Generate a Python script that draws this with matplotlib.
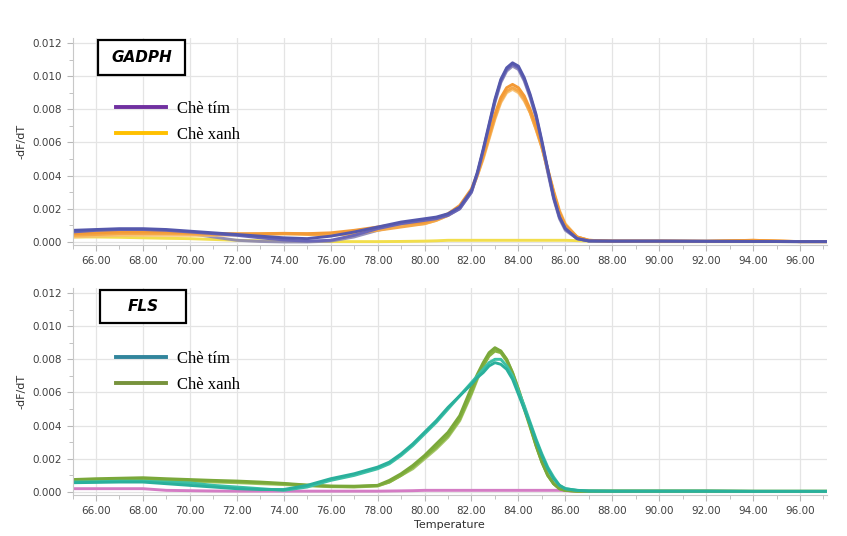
import matplotlib
matplotlib.use('Agg')
import matplotlib.pyplot as plt
from matplotlib.lines import Line2D
from matplotlib.patches import Rectangle
from matplotlib.ticker import MultipleLocator, FormatStrFormatter

# ---- data: GADPH (top panel) ----
t_top = [65, 66, 67, 68, 69, 70, 71, 72, 73, 74, 75, 76, 77, 78, 79, 80,
         80.5, 81, 81.5, 82,
         82.25, 82.5, 82.75, 83, 83.25, 83.5, 83.75, 84, 84.25, 84.5, 84.75, 85, 85.25, 85.5, 85.75, 86,
         86.5, 87, 88, 90, 92, 94, 96, 97.1]

gadph_tim_1 = [0.0007, 0.00075, 0.0008, 0.0008, 0.00075, 0.00065, 0.00055, 0.00045, 0.00035, 0.00025, 0.0002, 0.00035, 0.0006, 0.0009, 0.0012, 0.0014,
               0.0015, 0.0017, 0.0021, 0.0031,
               0.0042, 0.0056, 0.0071, 0.0086, 0.0098, 0.0105, 0.0108, 0.0106, 0.0099, 0.0089, 0.0077, 0.0061, 0.0044, 0.0027, 0.0015, 0.0008,
               0.0002, 0.00006, 0.00005, 0.00005, 0.00004, 0.00003, 0.00002, 0.00002]
gadph_tim_2 = [0.0006, 0.0007, 0.00075, 0.00075, 0.0007, 0.0006, 0.0005, 0.0004, 0.00025, 0.00012, 0.00005, 0.0001, 0.0004, 0.0008, 0.0011, 0.0013,
               0.0014, 0.0016, 0.0020, 0.0030,
               0.0041, 0.0055, 0.0070, 0.0085, 0.0097, 0.0104, 0.0107, 0.0105, 0.0098, 0.0088, 0.0076, 0.0060, 0.0043, 0.0027, 0.0015, 0.0008,
               0.0002, 0.00006, 0.00005, 0.00005, 0.00004, 0.00003, 0.00002, 0.00002]
gadph_tim_3 = [0.0006, 0.00065, 0.0007, 0.0007, 0.0006, 0.0005, 0.0003, 0.0001, 0.00003, 0.0, 0.0, 0.00005, 0.0003, 0.0007, 0.001, 0.0012,
               0.0014, 0.0016, 0.0020, 0.0030,
               0.0041, 0.0055, 0.0069, 0.0084, 0.0096, 0.0103, 0.0106, 0.0104, 0.0097, 0.0087, 0.0075, 0.0059, 0.0042, 0.0026, 0.0014, 0.0007,
               0.0002, 0.00006, 0.00005, 0.00005, 0.00004, 0.00003, 0.00002, 0.00002]
gadph_xanh_1 = [0.0005, 0.00055, 0.0006, 0.0006, 0.0006, 0.00055, 0.0005, 0.0005, 0.0005, 0.00052, 0.0005, 0.00055, 0.0007, 0.0009, 0.0011, 0.0012,
                0.0014, 0.0017, 0.0022, 0.0032,
                0.0041, 0.0052, 0.0065, 0.0077, 0.0087, 0.0093, 0.0095, 0.0093, 0.0088, 0.0080, 0.0070, 0.0058, 0.0044, 0.0030, 0.0018, 0.0010,
                0.0003, 0.0001, 0.00005, 0.00005, 0.00004, 0.0001, 0.00002, 0.00002]
gadph_xanh_2 = [0.0004, 0.00045, 0.0005, 0.0005, 0.0005, 0.00048, 0.00045, 0.00045, 0.00048, 0.0005, 0.00045, 0.0004, 0.0005, 0.0007, 0.0009, 0.0011,
                0.0013, 0.0016, 0.0021, 0.0031,
                0.0040, 0.0051, 0.0063, 0.0075, 0.0085, 0.0091, 0.0093, 0.0091, 0.0086, 0.0078, 0.0068, 0.0057, 0.0043, 0.0030, 0.0018, 0.0010,
                0.0003, 0.0001, 0.00005, 0.00005, 0.00004, 0.0001, 0.00002, 0.00002]
gadph_xanh_3 = [0.0003, 0.00035, 0.0004, 0.0004, 0.0004, 0.0004, 0.0004, 0.00042, 0.00045, 0.00048, 0.0005, 0.0005, 0.0006, 0.0008, 0.001, 0.0011,
                0.0013, 0.0016, 0.0021, 0.0031,
                0.0040, 0.0050, 0.0062, 0.0074, 0.0084, 0.0090, 0.0092, 0.0090, 0.0085, 0.0078, 0.0068, 0.0057, 0.0044, 0.0031, 0.0019, 0.0011,
                0.0003, 0.0001, 0.00005, 0.00005, 0.00004, 0.00008, 0.00002, 0.00002]
gadph_ntc = [0.0003, 0.0003, 0.00028, 0.00025, 0.00022, 0.0002, 0.00015, 0.0001, 0.00007, 0.00005, 0.00003, 0.00002, 0.00002, 0.00002, 0.00003, 0.00005,
             0.00007, 0.0001, 0.0001, 0.0001,
             0.0001, 0.0001, 0.0001, 0.0001, 0.0001, 0.0001, 0.0001, 0.0001, 0.0001, 0.0001, 0.0001, 0.0001, 0.0001, 0.0001, 0.0001, 0.0001,
             0.00008, 0.00005, 0.00003, 0.00002, 0.00002, 0.00002, 0.00002, 0.00002]

# ---- data: FLS (bottom panel) ----
t_bot = [65, 66, 67, 68, 69, 70, 71, 72, 73, 74, 75, 76, 77, 78,
         78.5, 79, 79.5, 80, 80.5, 81, 81.5, 82,
         82.25, 82.5, 82.75, 83, 83.25, 83.5, 83.75, 84, 84.25, 84.5, 84.75, 85, 85.25, 85.5, 85.75, 86,
         86.5, 87, 88, 90, 92, 94, 96, 97.1]

fls_tim_1 = [0.00056, 0.00058, 0.0006, 0.0006, 0.0005, 0.0004, 0.0003, 0.0002, 0.00015, 0.00015, 0.0004, 0.0008, 0.0011, 0.0015,
             0.0018, 0.0023, 0.0029, 0.0036, 0.0043, 0.0051, 0.0058, 0.0065,
             0.0069, 0.0072, 0.0076, 0.0078, 0.0077, 0.0074, 0.0068, 0.0059, 0.0050, 0.0041, 0.0031, 0.0022, 0.0014, 0.0008, 0.0004, 0.0002,
             0.0001, 0.00006, 0.00005, 0.00005, 0.00005, 0.00004, 0.00004, 0.00004]
fls_tim_2 = [0.0006, 0.00062, 0.00065, 0.00065, 0.0006, 0.00055, 0.0004, 0.0003, 0.0002, 0.0001, 0.0003, 0.0007, 0.001, 0.0014,
             0.0017, 0.0022, 0.0028, 0.0035, 0.0042, 0.0050, 0.0058, 0.0066,
             0.0070, 0.0074, 0.0078, 0.0080, 0.0080, 0.0076, 0.0070, 0.0061, 0.0052, 0.0042, 0.0032, 0.0023, 0.0015, 0.0009, 0.0004, 0.0002,
             0.0001, 0.00006, 0.00005, 0.00005, 0.00005, 0.00004, 0.00004, 0.00004]
fls_xanh_1 = [0.00075, 0.0008, 0.00083, 0.00086, 0.0008, 0.00075, 0.0007, 0.00066, 0.0006, 0.00052, 0.00042, 0.00036, 0.00035, 0.0004,
              0.0007, 0.0011, 0.0016, 0.0022, 0.0029, 0.0036, 0.0046, 0.0063,
              0.0071, 0.0078, 0.0084, 0.0087, 0.0085, 0.0080, 0.0072, 0.0062, 0.0051, 0.0040, 0.0028, 0.0018, 0.0010, 0.0005, 0.0002, 0.0001,
              0.00005, 0.00005, 0.00005, 0.00005, 0.00005, 0.00004, 0.00004, 0.00004]
fls_xanh_2 = [0.0007, 0.00072, 0.00075, 0.00078, 0.00075, 0.0007, 0.00065, 0.0006, 0.00055, 0.00048, 0.0004, 0.00034, 0.00032, 0.00038,
              0.0006, 0.0010, 0.0015, 0.0021, 0.0027, 0.0034, 0.0044, 0.0060,
              0.0069, 0.0076, 0.0082, 0.0085, 0.0084, 0.0079, 0.0071, 0.0061, 0.0050, 0.0039, 0.0028, 0.0018, 0.0010, 0.0005, 0.0002, 0.0001,
              0.00005, 0.00005, 0.00005, 0.00005, 0.00005, 0.00004, 0.00004, 0.00004]
fls_xanh_3 = [0.00065, 0.00068, 0.0007, 0.00072, 0.0007, 0.00066, 0.0006, 0.00056, 0.0005, 0.00045, 0.00038, 0.00032, 0.0003, 0.00036,
              0.0006, 0.0010, 0.0014, 0.0020, 0.0026, 0.0033, 0.0043, 0.0059,
              0.0068, 0.0076, 0.0083, 0.0086, 0.0085, 0.0080, 0.0072, 0.0062, 0.0051, 0.0040, 0.0029, 0.0019, 0.0011, 0.0005, 0.0002, 0.0001,
              0.00005, 0.00005, 0.00005, 0.00005, 0.00005, 0.00004, 0.00004, 0.00004]
fls_ntc = [0.0002, 0.0002, 0.0002, 0.0002, 0.0001, 0.00008, 0.00006, 0.00005, 0.00005, 0.00005, 0.00005, 0.00005, 0.00005, 0.00005,
           0.00006, 0.00007, 0.00008, 0.0001, 0.0001, 0.0001, 0.0001, 0.0001,
           0.0001, 0.0001, 0.0001, 0.0001, 0.0001, 0.0001, 0.0001, 0.0001, 0.0001, 0.0001, 0.0001, 0.0001, 0.0001, 0.0001, 0.0001, 0.00008,
           0.00004, 0.00003, 0.00003, 0.00003, 0.00003, 0.00003, 0.00003, 0.00003]

legend_labels = ['Chè tím', 'Chè xanh']
x_ticks = list(range(66, 97, 2))

# ---- figure ----
fig = plt.figure(figsize=(8.47, 5.36), dpi=100)
ax1 = fig.add_axes([0.0856, 0.5424, 0.8908, 0.3868])
ax2 = fig.add_axes([0.0856, 0.0759, 0.8908, 0.3868])


def style_axes(ax):
    ax.set_xlim(65, 97.15)
    ax.set_ylim(-0.0002, 0.0123)
    ax.set_xticks(x_ticks)
    ax.xaxis.set_major_formatter(FormatStrFormatter('%.2f'))
    ax.xaxis.set_minor_locator(MultipleLocator(1))
    ax.set_yticks([0, 0.002, 0.004, 0.006, 0.008, 0.010, 0.012])
    ax.yaxis.set_major_formatter(FormatStrFormatter('%.3f'))
    ax.yaxis.set_minor_locator(MultipleLocator(0.001))
    ax.grid(True, which='major', color='#e4e4e4', lw=0.9)
    ax.set_axisbelow(True)
    for s in ['top', 'right']:
        ax.spines[s].set_visible(False)
    for s in ['left', 'bottom']:
        ax.spines[s].set_color('#c8c8c8')
    ax.tick_params(which='both', colors='#b8b8b8', labelcolor='#404040', labelsize=7.5, direction='out')
    ax.tick_params(which='major', length=4)
    ax.tick_params(which='minor', length=3)
    ax.set_ylabel('-dF/dT', fontsize=8, color='#303030', labelpad=4)


def label_box(ax, text, x0, y0, w, h):
    ax.add_patch(Rectangle((x0, y0), w, h, transform=ax.transAxes, fill=True, facecolor='white',
                           edgecolor='black', lw=1.6, zorder=5, clip_on=False))
    ax.text(x0 + w / 2, y0 + h / 2, text, transform=ax.transAxes, ha='center', va='center',
            fontsize=11, fontweight='bold', fontstyle='italic', family='DejaVu Sans', zorder=6)


def add_legend(ax, colors):
    handles = [Line2D([], [], color=c, lw=2.8) for c in colors]
    ax.legend(handles, legend_labels, loc='upper left', bbox_to_anchor=(0.058, 0.697), frameon=False,
              prop={'family': 'Liberation Serif', 'size': 12}, handlelength=3.0, handletextpad=0.65,
              labelspacing=0.62, borderaxespad=0, borderpad=0)


lw = 2.1
# top panel
ax1.plot(t_top, gadph_ntc, color='#f2de4c', lw=lw)
ax1.plot(t_top, gadph_tim_3, color='#8a86b4', lw=lw, alpha=0.9)
ax1.plot(t_top, gadph_xanh_3, color='#f8c070', lw=lw, alpha=0.9)
ax1.plot(t_top, gadph_xanh_2, color='#f5a848', lw=lw)
ax1.plot(t_top, gadph_xanh_1, color='#f39a36', lw=lw)
ax1.plot(t_top, gadph_tim_2, color='#6a66b8', lw=lw)
ax1.plot(t_top, gadph_tim_1, color='#5558ac', lw=lw)
style_axes(ax1)
label_box(ax1, 'GADPH', 0.034, 0.821, 0.115, 0.169)
add_legend(ax1, ['#7030a0', '#ffc000'])

# bottom panel
ax2.plot(t_bot, fls_ntc, color='#d47cc4', lw=lw)
ax2.plot(t_bot, fls_xanh_3, color='#9cc05a', lw=lw, alpha=0.9)
ax2.plot(t_bot, fls_xanh_2, color='#86b340', lw=lw)
ax2.plot(t_bot, fls_xanh_1, color='#7aa83a', lw=lw)
ax2.plot(t_bot, fls_tim_2, color='#3cc0a6', lw=lw)
ax2.plot(t_bot, fls_tim_1, color='#2ab09c', lw=lw)
style_axes(ax2)
ax2.set_xlabel('Temperature', fontsize=8, color='#303030', labelpad=3)
label_box(ax2, 'FLS', 0.036, 0.831, 0.115, 0.159)
add_legend(ax2, ['#31859c', '#77933c'])

fig.savefig('out.png', dpi=100)
